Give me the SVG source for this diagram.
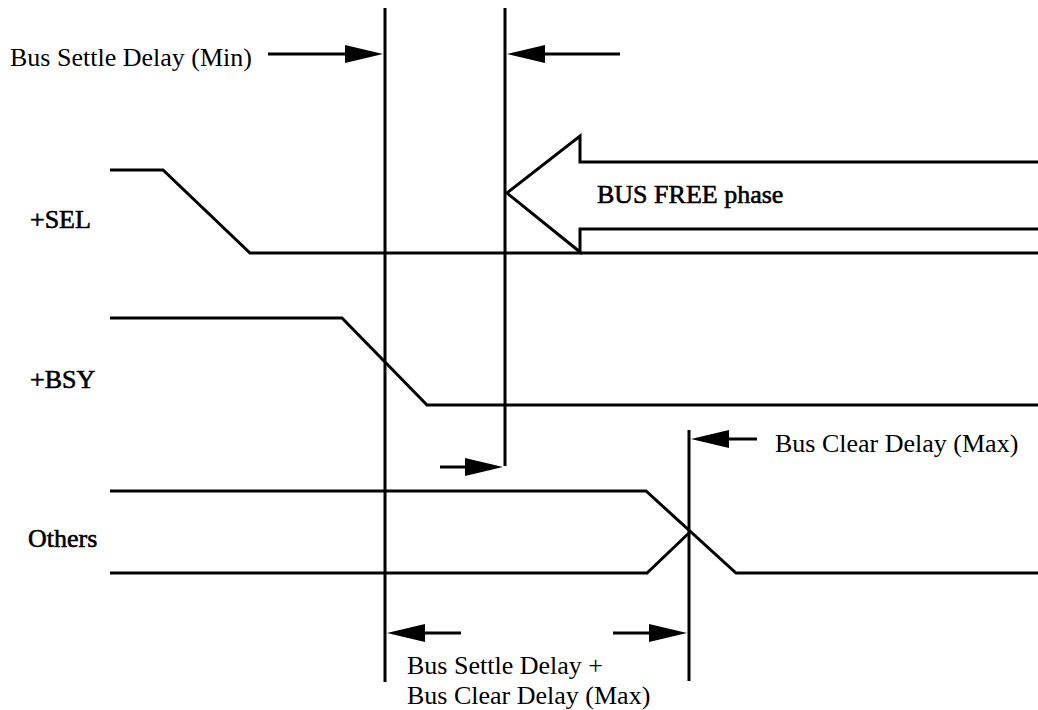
<svg xmlns="http://www.w3.org/2000/svg" width="1038" height="710" viewBox="0 0 1038 710">
<defs>
<style>
.ln{fill:none;stroke:#000;stroke-width:3;stroke-linejoin:miter}
.tx{font-family:"Liberation Serif","Times New Roman",serif;font-size:26px;fill:#000}
.sg{stroke:#000;stroke-width:0.6}
</style>
</defs>
<rect width="1038" height="710" fill="#fff"/>
<g id="signals">
<g id="sel"><polyline class="ln" points="110,170 163,170 250,253 1038,253"/><text class="tx sg" x="30" y="228">+SEL</text></g>
<g id="bsy"><polyline class="ln" points="110,318 342,318 427,405 1038,405"/><text class="tx sg" x="30" y="388">+BSY</text></g>
<g id="others"><polyline class="ln" points="110,491 646,491 736,573 1038,573"/><polyline class="ln" points="110,573 647,573 690,532"/><text class="tx sg" x="28" y="547">Others</text></g>
<g id="busfree"><polyline class="ln" points="1038,162 580,162 580,136 507,193 580,252 580,229 1038,229"/><text class="tx sg" x="597" y="203">BUS FREE phase</text></g>
</g>
<g id="connectors">
<line class="ln" x1="385" y1="8" x2="385" y2="682"/>
<line class="ln" x1="505" y1="8" x2="505" y2="466"/>
<line class="ln" x1="689" y1="430" x2="689" y2="681"/>
<line class="ln" x1="268" y1="54" x2="350" y2="54"/><polygon points="383,54 345,45 345,63"/>
<line class="ln" x1="620" y1="54" x2="535" y2="54"/><polygon points="507,54 545,45 545,63"/>
<line class="ln" x1="440" y1="467" x2="470" y2="467"/><polygon points="503,467 465,458 465,476"/>
<line class="ln" x1="757" y1="439" x2="720" y2="439"/><polygon points="691,439 729,430 729,448"/>
<line class="ln" x1="461" y1="633" x2="410" y2="633"/><polygon points="387,633 425,624 425,642"/>
<line class="ln" x1="613" y1="633" x2="660" y2="633"/><polygon points="687,633 649,624 649,642"/>
</g>
<g id="labels">
<text class="tx" x="10" y="66">Bus Settle Delay (Min)</text>
<text class="tx" x="775" y="452">Bus Clear Delay (Max)</text>
<text class="tx" x="407" y="674">Bus Settle Delay +</text>
<text class="tx" x="407" y="704">Bus Clear Delay (Max)</text>
</g>
</svg>
